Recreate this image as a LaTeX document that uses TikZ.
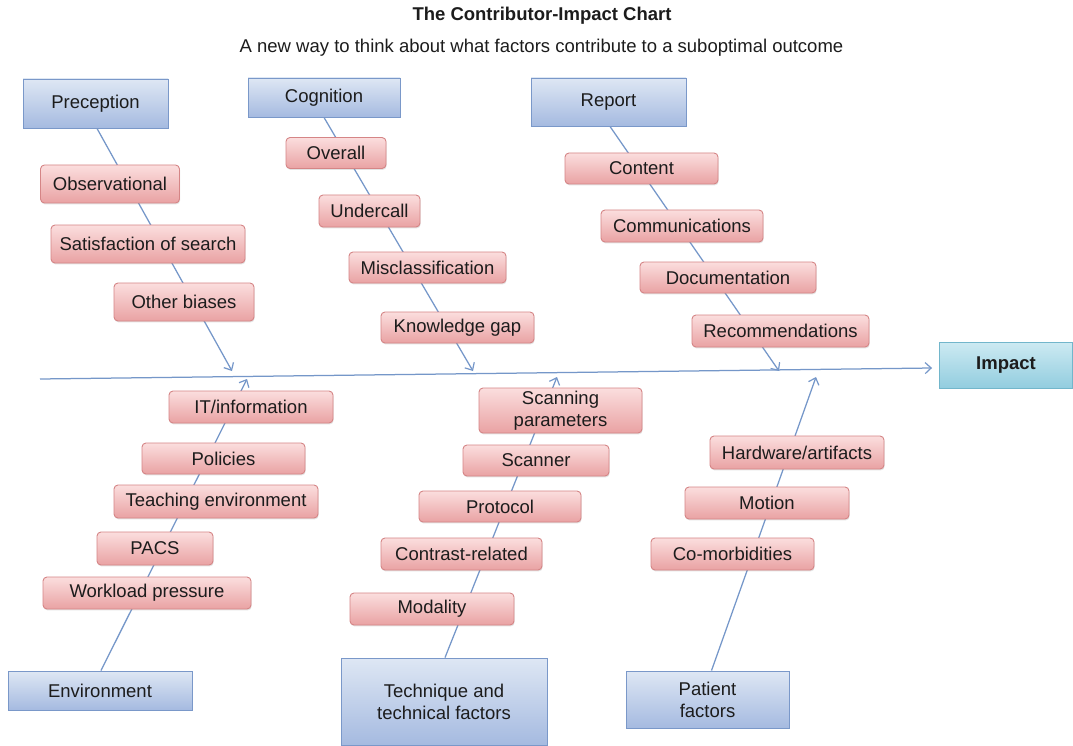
\documentclass[tikz,border=0pt]{standalone}
\usepackage{fontspec}
\setmainfont{Liberation Sans}
\usetikzlibrary{arrows.meta,shadows,backgrounds}

\definecolor{textc}{HTML}{1C1C1C}
\definecolor{linec}{HTML}{7597C9}
\definecolor{pinktop}{HTML}{FBDEDE}
\definecolor{pinkbot}{HTML}{E9A2A3}
\definecolor{pinkline}{HTML}{D58586}
\definecolor{bluetop}{HTML}{DEE7F4}
\definecolor{bluebot}{HTML}{A5BAE0}
\definecolor{blueline}{HTML}{7A98C9}
\definecolor{tealtop}{HTML}{CDEAF2}
\definecolor{tealbot}{HTML}{92CDDF}
\definecolor{tealline}{HTML}{72B6CB}

\begin{document}
\begin{tikzpicture}[x=1pt,y=-1pt,
  every node/.style={font=\fontsize{18.5}{22}\selectfont, text=textc, inner sep=0pt, align=center},
  sz/.style 2 args={minimum width=#1pt, minimum height=#2pt},
  cause/.style={draw=pinkline, line width=0.9pt, rounded corners=4pt,
    top color=pinktop, bottom color=pinkbot,
    drop shadow={shadow xshift=0.6pt, shadow yshift=-1.4pt, opacity=0.22}},
  category/.style={draw=blueline, line width=0.9pt,
    top color=bluetop, bottom color=bluebot,
    drop shadow={shadow xshift=0.6pt, shadow yshift=-1.4pt, opacity=0.22}},
  effect/.style={draw=tealline, line width=0.9pt,
    top color=tealtop, bottom color=tealbot,
    font=\bfseries\fontsize{18.5}{22}\selectfont,
    drop shadow={shadow xshift=0.6pt, shadow yshift=-1.4pt, opacity=0.22}},
  conn/.style={draw=linec, line width=1.25pt,
    -{Straight Barb[length=6pt,width=11pt,line width=1.2pt]}}
]
\useasboundingbox (0,0) rectangle (1073,746);

% headings
\node[font=\bfseries\fontsize{18.5}{22}\selectfont] (title) at (542,16) {The Contributor-Impact Chart};
\node (subtitle) at (541.5,48) {A new way to think about what factors contribute to a suboptimal outcome};

% main categories
\node[category, sz={145}{49}] (perc) at (95.5,103.5) {Preception};
\node[category, sz={152}{39}] (cog) at (324,97.5) {Cognition};
\node[category, sz={155}{48}] (rep) at (608.5,102) {Report};
\node[category, sz={184}{39}] (env) at (100,690.5) {Environment};
\node[category, sz={206}{87}] (tech) at (444,701.5) {Technique and\\technical factors};
\node[category, sz={163}{57}] (pat) at (707.5,699.5) {Patient\\factors};
\node[effect, sz={133}{46}] (imp) at (1006,365) {Impact};

% perception causes
\node[cause, sz={139}{38}] (obs) at (110,184) {Observational};
\node[cause, sz={194}{38}] (sat) at (148,244) {Satisfaction of search};
\node[cause, sz={140}{38}] (oth) at (184,302) {Other biases};

% cognition causes
\node[cause, sz={100}{31}] (ovr) at (336,153) {Overall};
\node[cause, sz={101}{32}] (und) at (369.5,211) {Undercall};
\node[cause, sz={157}{31}] (mis) at (427.5,267.5) {Misclassification};
\node[cause, sz={153}{31}] (kno) at (457.5,327.5) {Knowledge gap};

% report causes
\node[cause, sz={153}{31}] (cont) at (641.5,168.5) {Content};
\node[cause, sz={162}{32}] (comm) at (682,226) {Communications};
\node[cause, sz={176}{31}] (docu) at (728,277.5) {Documentation};
\node[cause, sz={177}{32}] (reco) at (780.5,331) {Recommendations};

% environment causes
\node[cause, sz={164}{32}] (itinf) at (251,407) {IT/information};
\node[cause, sz={163}{31}] (pol) at (223.5,458.5) {Policies};
\node[cause, sz={204}{33}] (teach) at (216,501.5) {Teaching environment};
\node[cause, sz={116}{33}] (pacs) at (155,548.5) {PACS};
\node[cause, sz={208}{32}] (work) at (147,593) {Workload pressure};

% technique causes
\node[cause, sz={163}{45}] (scpar) at (560.5,410.5) {Scanning\\parameters};
\node[cause, sz={146}{31}] (scan) at (536,460.5) {Scanner};
\node[cause, sz={162}{31}] (prot) at (500,506.5) {Protocol};
\node[cause, sz={161}{32}] (contr) at (461.5,554) {Contrast-related};
\node[cause, sz={164}{32}] (moda) at (432,609) {Modality};

% patient causes
\node[cause, sz={174}{33}] (hard) at (797,452.5) {Hardware/artifacts};
\node[cause, sz={164}{32}] (moti) at (767,503) {Motion};
\node[cause, sz={163}{32}] (comor) at (732.5,554) {Co-morbidities};

% arrow tips on the spine
\coordinate (spine) at (40,379);
\coordinate (tipP) at (232,371);
\coordinate (tipC) at (473,371);
\coordinate (tipR) at (779,371);
\coordinate (tipE) at (247,379);
\coordinate (tipT) at (557,377);
\coordinate (tipPa) at (816,377);

\begin{scope}[on background layer]
  \fill[white] (0,0) rectangle (1073,746);
  \draw[conn] (spine) -- ([xshift=-7pt,yshift=-3pt]imp.west);
  \draw[conn] ([xshift=1.5pt]perc.south) -- (tipP);
  \draw[conn] (cog.south) -- (tipC);
  \draw[conn] ([xshift=1.5pt]rep.south) -- (tipR);
  \draw[conn] ([xshift=1pt]env.north) -- (tipE);
  \draw[conn] ([xshift=1pt]tech.north) -- (tipT);
  \draw[conn] ([xshift=4pt]pat.north) -- (tipPa);
\end{scope}
\end{tikzpicture}
\end{document}
